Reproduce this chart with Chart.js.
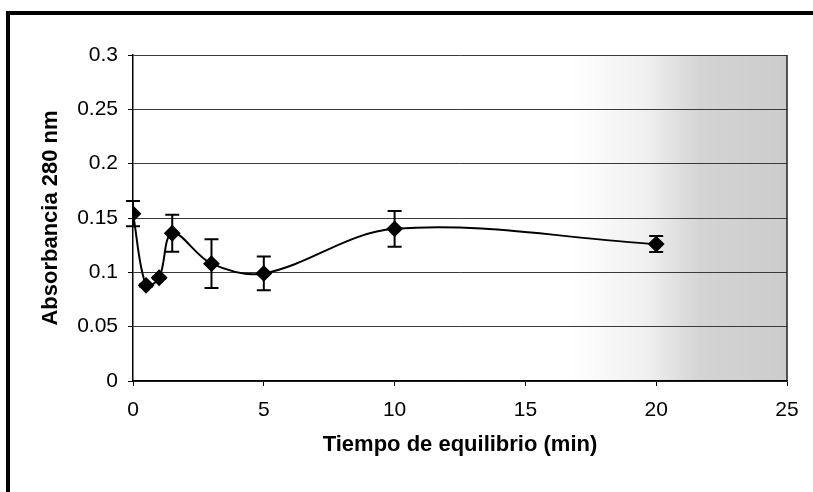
<!DOCTYPE html>
<html>
<head>
<meta charset="utf-8">
<script src="https://cdn.jsdelivr.net/npm/chart.js@4.4.1/dist/chart.umd.min.js"></script>
<style>
  html, body { margin: 0; padding: 0; background: #fff; }
  #wrap { position: relative; width: 813px; height: 492px; overflow: hidden; }
  #frame { position: absolute; left: 6px; top: 11px; right: -10px; bottom: -10px;
           border-left: 4px solid #000; border-top: 4px solid #000; pointer-events: none; }
  canvas { position: absolute; left: 0; top: 0; }
</style>
</head>
<body>
<div id="wrap">
  <canvas id="grafico" width="813" height="492"></canvas>
  <div id="frame"></div>
</div>
<script>
// datos
const tiempos    = [0, 0.5, 1, 1.5, 3, 5, 10, 20];
const absorbancia = [0.154, 0.088, 0.095, 0.136, 0.108, 0.099, 0.140, 0.126];
const errores    = [0.0116, 0.001, 0.001, 0.017, 0.0225, 0.0155, 0.0164, 0.0074];
const yTickLabels = ['0', '0.05', '0.1', '0.15', '0.2', '0.25', '0.3'];
const xTickLabels = ['0', '5', '10', '15', '20', '25'];

const fuente = "'Liberation Sans', Arial, sans-serif";

// barras de error
const errorBars = {
  id: 'errorBars',
  afterDatasetsDraw(chart) {
    const { ctx, scales: { x, y } } = chart;
    ctx.save();
    ctx.strokeStyle = '#000';
    ctx.lineWidth = 2;
    tiempos.forEach((t, i) => {
      const px = x.getPixelForValue(t);
      const top = y.getPixelForValue(absorbancia[i] + errores[i]);
      const bot = y.getPixelForValue(absorbancia[i] - errores[i]);
      ctx.beginPath();
      ctx.moveTo(px, top); ctx.lineTo(px, bot);
      ctx.moveTo(px - 7, top); ctx.lineTo(px + 7, top);
      ctx.moveTo(px - 7, bot); ctx.lineTo(px + 7, bot);
      ctx.stroke();
    });
    ctx.restore();
  }
};

// fondo punteado a la derecha (escaneo) y borde derecho del area
const plotDecor = {
  id: 'plotDecor',
  beforeDraw(chart) {
    const { ctx, chartArea: a } = chart;
    const g = ctx.createLinearGradient(570, 0, a.right, 0);
    g.addColorStop(0, 'rgba(0,0,0,0)');
    g.addColorStop(0.35, 'rgba(0,0,0,0.06)');
    g.addColorStop(0.6, 'rgba(0,0,0,0.17)');
    g.addColorStop(1, 'rgba(0,0,0,0.2)');
    ctx.save();
    ctx.fillStyle = g;
    ctx.fillRect(570, a.top, a.right - 570, a.bottom - a.top);
    ctx.restore();
  },
  afterDraw(chart) {
    const { ctx, chartArea: a } = chart;
    ctx.save();
    ctx.strokeStyle = '#222';
    ctx.lineWidth = 1.5;
    ctx.beginPath();
    ctx.moveTo(a.right, a.top); ctx.lineTo(a.right, a.bottom);
    ctx.stroke();
    ctx.restore();
  }
};

new Chart(document.getElementById('grafico'), {
  type: 'line',
  data: {
    datasets: [{
      data: tiempos.map((t, i) => ({ x: t, y: absorbancia[i] })),
      borderColor: '#000',
      borderWidth: 2,
      backgroundColor: '#000',
      tension: 0.35,
      pointStyle: 'rectRot',
      pointRadius: 7,
      pointBackgroundColor: '#000',
      pointBorderColor: '#000',
      fill: false
    }]
  },
  options: {
    responsive: false,
    animation: false,
    devicePixelRatio: 1,
    layout: { padding: { top: 55, right: 26, bottom: 0, left: 0 } },
    plugins: { legend: { display: false }, tooltip: { enabled: false } },
    scales: {
      x: {
        type: 'linear',
        min: 0, max: 25,
        afterFit: s => { s.height = 111; },
        ticks: {
          stepSize: 5,
          padding: 12,
          color: '#000',
          font: { family: fuente, size: 21 },
          callback: (v, i) => xTickLabels[i]
        },
        grid: { drawOnChartArea: false, drawTicks: true, tickLength: 5, color: '#000' },
        border: { color: '#000', width: 1.5 },
        title: {
          display: true,
          text: 'Tiempo de equilibrio (min)',
          color: '#000',
          font: { family: fuente, size: 22, weight: 'bold' },
          padding: { top: 0, bottom: 34 }
        }
      },
      y: {
        min: 0, max: 0.3,
        afterFit: s => { s.width = 133; },
        ticks: {
          stepSize: 0.05,
          padding: 10,
          color: '#000',
          font: { family: fuente, size: 21 },
          callback: (v, i) => yTickLabels[i]
        },
        grid: { color: '#3a3a3a', lineWidth: 1, tickLength: 5, tickColor: '#000' },
        border: { color: '#000', width: 1.5 },
        title: {
          display: true,
          text: 'Absorbancia 280 nm',
          color: '#000',
          font: { family: fuente, size: 22, weight: 'bold' },
          padding: { top: 38, bottom: 0 }
        }
      }
    }
  },
  plugins: [plotDecor, errorBars]
});
</script>
</body>
</html>
